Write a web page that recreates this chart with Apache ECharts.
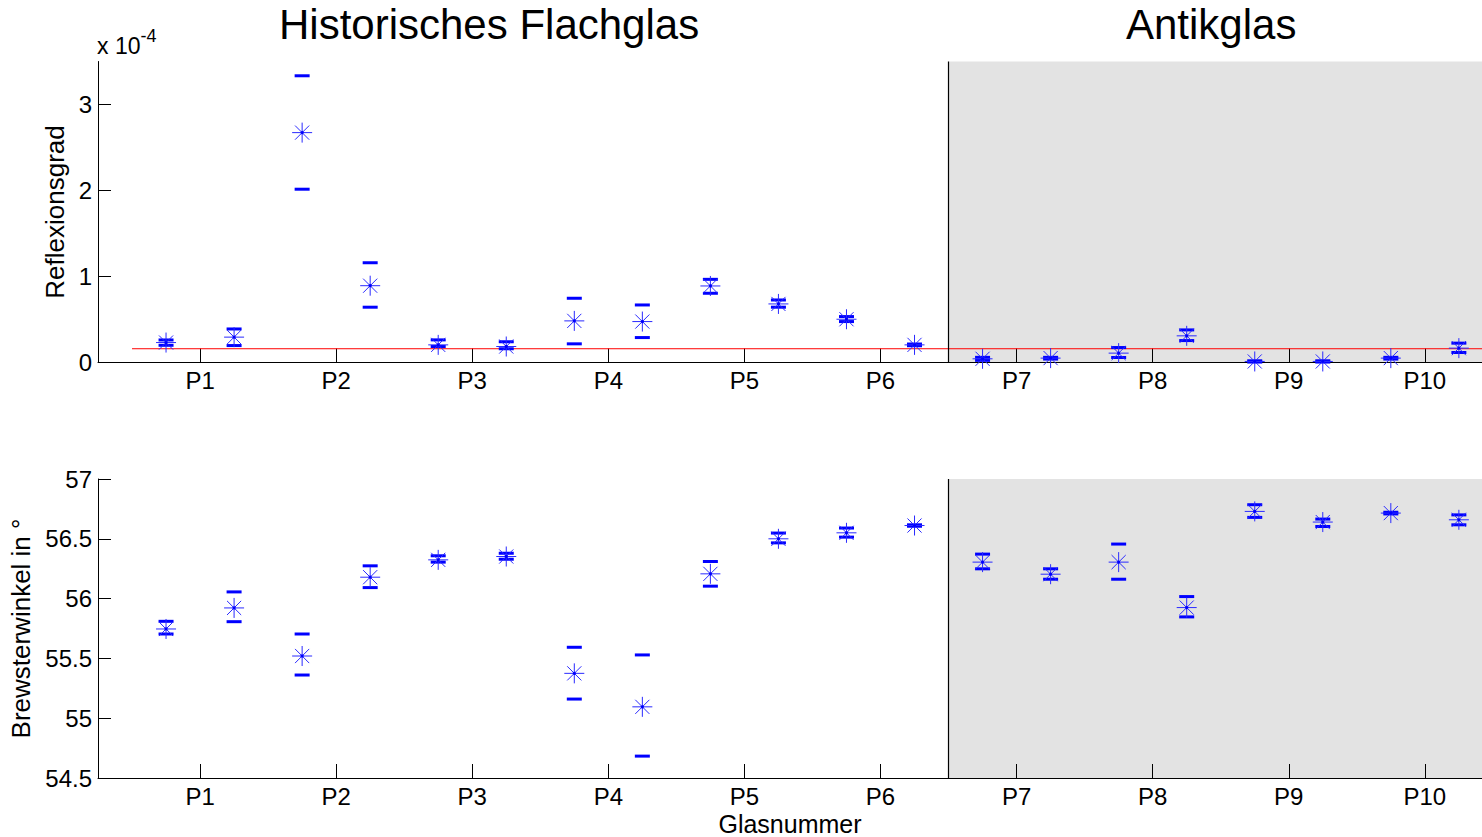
<!DOCTYPE html>
<html>
<head>
<meta charset="utf-8">
<script src="https://cdn.jsdelivr.net/npm/echarts@6/dist/echarts.min.js"></script>
<style>
html,body{margin:0;padding:0;background:#fff;}
#main{width:1482px;height:837px;}
</style>
</head>
<body>
<div id="main"></div>
<script>
// ---- data ----
const glassLabels = ['P1','P2','P3','P4','P5','P6','P7','P8','P9','P10'];
const glassTicks = [1,2,3,4,5,6,7,8,9,10];
const sampleX = [0.75,1.25,1.75,2.25,2.75,3.25,3.75,4.25,4.75,5.25,5.75,6.25,6.75,7.25,7.75,8.25,8.75,9.25,9.75,10.25];
// Reflexionsgrad in units of 1e-4
const reflMean = [0.232,0.295,2.673,0.893,0.205,0.186,0.484,0.476,0.890,0.681,0.503,0.205,0.043,0.051,0.109,0.310,0.012,0.012,0.051,0.167];
const reflLo   = [0.200,0.197,2.015,0.643,0.186,0.160,0.217,0.290,0.805,0.643,0.476,0.195,0.025,0.040,0.058,0.255,0.005,0.005,0.040,0.116];
const reflHi   = [0.262,0.390,3.334,1.160,0.263,0.240,0.747,0.669,0.967,0.727,0.534,0.215,0.060,0.060,0.174,0.379,0.020,0.020,0.060,0.225];
// Brewsterwinkel in degrees
const brewMean = [55.746,55.922,55.520,56.179,56.324,56.352,55.375,55.095,56.207,56.500,56.550,56.611,56.305,56.204,56.305,55.925,56.729,56.640,56.715,56.659];
const brewLo   = [55.704,55.807,55.361,56.092,56.305,56.330,55.160,54.683,56.104,56.466,56.514,56.605,56.249,56.162,56.162,55.847,56.679,56.603,56.708,56.617];
const brewHi   = [55.810,56.056,55.704,56.274,56.358,56.380,55.593,55.529,56.310,56.548,56.590,56.617,56.372,56.249,56.456,56.017,56.785,56.665,56.722,56.700];
const reflThreshold = [0.16];
const reflTicks = [0,1,2,3];
const brewTicks = [54.5,55,55.5,56,56.5,57];
const xRange = [0.25, 10.42];
const antikStart = 6.5;
const thresholdStart = 0.5;

// ---- chart ----
const FONT = '"Liberation Sans", Arial, sans-serif';
const BLUE = '#0000ff';
const chart = echarts.init(document.getElementById('main'), null, {renderer:'svg'});

function errItem(params, api){
  const x = api.value(0), m = api.value(1), lo = api.value(2), hi = api.value(3);
  const c = api.coord([x,m]), pl = api.coord([x,lo]), ph = api.coord([x,hi]);
  const r = 10, d = r*Math.SQRT1_2, cw = 7.5;
  const st = {stroke: '#2a2aff', lineWidth: 1};
  return {type:'group', children:[
    {type:'rect', shape:{x:pl[0]-cw, y:pl[1]-1.5, width:2*cw, height:3}, style:{fill:BLUE}},
    {type:'rect', shape:{x:ph[0]-cw, y:ph[1]-1.5, width:2*cw, height:3}, style:{fill:BLUE}},
    {type:'line', shape:{x1:c[0]-r, y1:c[1], x2:c[0]+r, y2:c[1]}, style:st},
    {type:'line', shape:{x1:c[0], y1:c[1]-r, x2:c[0], y2:c[1]+r}, style:st},
    {type:'line', shape:{x1:c[0]-d, y1:c[1]-d, x2:c[0]+d, y2:c[1]+d}, style:st},
    {type:'line', shape:{x1:c[0]-d, y1:c[1]+d, x2:c[0]+d, y2:c[1]-d}, style:st},
    {type:'circle', shape:{cx:c[0], cy:c[1], r:1.6}, style:{fill:BLUE}}
  ]};
}

const axisLineStyle = {color:'#000', width:1};
function xAxisDef(idx, withName){
  return {
    type:'value', gridIndex:idx, min:xRange[0], max:xRange[1], z:3,
    axisLine:{show:true, onZero:false, lineStyle:axisLineStyle},
    axisTick:{show:true, inside:true, length:14, customValues:glassTicks, lineStyle:axisLineStyle},
    axisLabel:{show:true, customValues:glassTicks, margin:6, color:'#000', fontSize:24, fontFamily:FONT,
      formatter:function(v){ return glassLabels[Math.round(v)-1]; }},
    splitLine:{show:false},
    name: withName ? 'Glasnummer' : '',
    nameLocation:'middle', nameGap:33,
    nameTextStyle:{color:'#000', fontSize:25, fontFamily:FONT}
  };
}
function yAxisDef(idx, min, max, ticks, name, gap){
  return {
    type:'value', gridIndex:idx, min:min, max:max, z:3,
    axisLine:{show:true, onZero:false, lineStyle:axisLineStyle},
    axisTick:{show:true, inside:true, length:13, customValues:ticks, lineStyle:axisLineStyle},
    axisLabel:{show:true, customValues:ticks, margin:6, color:'#000', fontSize:24, fontFamily:FONT},
    splitLine:{show:false},
    name:name, nameLocation:'middle', nameGap:gap,
    nameTextStyle:{color:'#000', fontSize:26, fontFamily:FONT}
  };
}
function bandSeries(xi, yi){
  return {
    type:'line', xAxisIndex:xi, yAxisIndex:yi, data:[], silent:true, z:1,
    markArea:{silent:true, itemStyle:{color:'#e3e3e3'}, data:[[{xAxis:antikStart},{xAxis:xRange[1]}]]},
    markLine:{silent:true, symbol:['none','none'], label:{show:false},
      lineStyle:{color:'#000', type:'solid', width:1.2}, data:[{xAxis:antikStart}]}
  };
}

const option = {
  animation:false,
  backgroundColor:'#fff',
  title:[
    {text:'Historisches Flachglas', left:279, top:5, padding:0,
      textStyle:{fontSize:42, lineHeight:38, fontWeight:'normal', color:'#000', fontFamily:FONT}},
    {text:'Antikglas', left:1126, top:5, padding:0,
      textStyle:{fontSize:42, lineHeight:38, fontWeight:'normal', color:'#000', fontFamily:FONT}}
  ],
  graphic:[{
    type:'text', left:97, top:27,
    style:{text:'{a|x 10}{b|-4}', rich:{
      a:{fontSize:23, fontFamily:FONT, fill:'#000', verticalAlign:'bottom', lineHeight:30},
      b:{fontSize:18, fontFamily:FONT, fill:'#000', verticalAlign:'top', lineHeight:30}
    }}
  }],
  grid:[
    {left:98, right:0, top:61.5, height:301},
    {left:98, right:0, top:479, height:299}
  ],
  xAxis:[xAxisDef(0,false), xAxisDef(1,true)],
  yAxis:[
    yAxisDef(0, 0, 3.5, reflTicks, 'Reflexionsgrad', 19),
    yAxisDef(1, 54.5, 57, brewTicks, 'Brewsterwinkel in °', 58)
  ],
  series:[
    bandSeries(0,0),
    bandSeries(1,1),
    {type:'line', xAxisIndex:0, yAxisIndex:0, z:3, silent:true, showSymbol:false, symbol:'none',
      lineStyle:{color:'#ff0000', width:1},
      data:[[thresholdStart, reflThreshold[0]],[xRange[1], reflThreshold[0]]]},
    {type:'custom', xAxisIndex:0, yAxisIndex:0, z:4, silent:true, renderItem:errItem,
      encode:{x:0, y:[1,2,3]},
      data: sampleX.map((x,i)=>[x, reflMean[i], reflLo[i], reflHi[i]])},
    {type:'custom', xAxisIndex:1, yAxisIndex:1, z:4, silent:true, renderItem:errItem,
      encode:{x:0, y:[1,2,3]},
      data: sampleX.map((x,i)=>[x, brewMean[i], brewLo[i], brewHi[i]])}
  ]
};
chart.setOption(option);
</script>
</body>
</html>
